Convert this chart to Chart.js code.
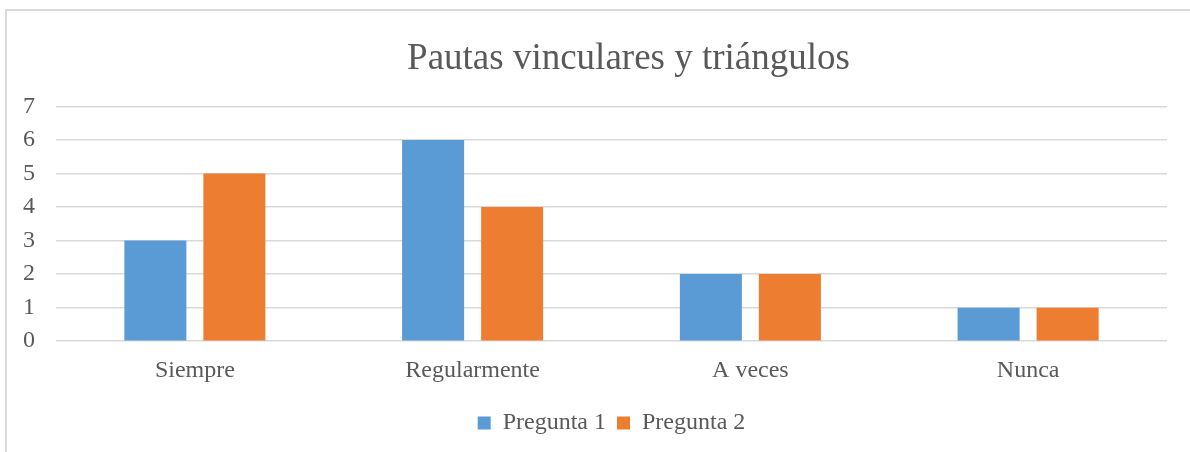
<!doctype html>
<html>
<head>
    <meta charset="utf-8">
    <title>Pautas vinculares y triángulos</title>
    <script src="https://cdn.jsdelivr.net/npm/chart.js@4/dist/chart.umd.min.js"></script>
    <style>
    body { margin: 0; background: #fff; }
    #holder { position: relative; width: 1190px; height: 452px; }
    #frame {
        position: absolute; left: 5px; top: 9px; width: 1190px; height: 460px;
        border: 2px solid #d9d9d9; box-sizing: border-box; pointer-events: none;
    }
    </style>
</head>
<body>
    <div id="holder">
        <canvas id="chart-area" width="1190" height="452"></canvas>
        <div id="frame"></div>
    </div>
    <script>
    var chartTitle = 'Pautas vinculares y triángulos';
    var categories = ["Siempre", "Regularmente", "A veces", "Nunca"];
    var pregunta1 = [3, 6, 2, 1];
    var pregunta2 = [5, 4, 2, 1];

    var grey = '#595959';
    var serif = "'Liberation Serif', 'Times New Roman', serif";
    var titleSize = 37;

    // the built-in title keeps the space, this draws the text a bit right of centre like the original
    var offsetTitle = {
        id: 'offsetTitle',
        afterDraw: function(chart) {
            var c = chart.ctx;
            var a = chart.chartArea;
            c.save();
            c.font = 'normal ' + titleSize + 'px ' + serif;
            c.fillStyle = grey;
            c.textAlign = 'center';
            c.textBaseline = 'middle';
            c.fillText(chartTitle, (a.left + a.right) / 2 + 17, chart.titleBlock.top + titleSize * 0.6);
            c.restore();
        }
    };

    var config = {
        type: 'bar',
        data: {
            labels: categories,
            datasets: [{
                label: 'Pregunta 1',
                data: pregunta1,
                backgroundColor: '#5b9bd5',
                categoryPercentage: 0.569,
                barPercentage: 0.785
            }, {
                label: 'Pregunta 2',
                data: pregunta2,
                backgroundColor: '#ed7d31',
                categoryPercentage: 0.569,
                barPercentage: 0.785
            }]
        },
        options: {
            responsive: false,
            animation: false,
            layout: { padding: { left: 2, right: 23, top: 37, bottom: 7 } },
            plugins: {
                title: {
                    display: true,
                    text: chartTitle,
                    color: 'rgba(0,0,0,0)',
                    font: { family: serif, size: titleSize, weight: 'normal' },
                    padding: { top: 0, bottom: 25 }
                },
                legend: {
                    position: 'bottom',
                    fullSize: false,
                    labels: {
                        color: grey,
                        font: { family: serif, size: 24 },
                        boxWidth: 13,
                        boxHeight: 13,
                        padding: 11
                    }
                },
                tooltip: { enabled: false }
            },
            scales: {
                x: {
                    grid: { display: false, drawTicks: false },
                    border: { display: false },
                    ticks: { color: grey, font: { family: serif, size: 24 }, padding: 15 }
                },
                y: {
                    min: 0,
                    max: 7,
                    grid: { color: '#d9d9d9', lineWidth: 1.5, drawTicks: false },
                    border: { display: false },
                    ticks: { stepSize: 1, color: grey, font: { family: serif, size: 24 }, padding: 21 }
                }
            }
        },
        plugins: [offsetTitle]
    };

    var ctx = document.getElementById("chart-area").getContext("2d");
    window.myBar = new Chart(ctx, config);
    </script>
</body>
</html>
